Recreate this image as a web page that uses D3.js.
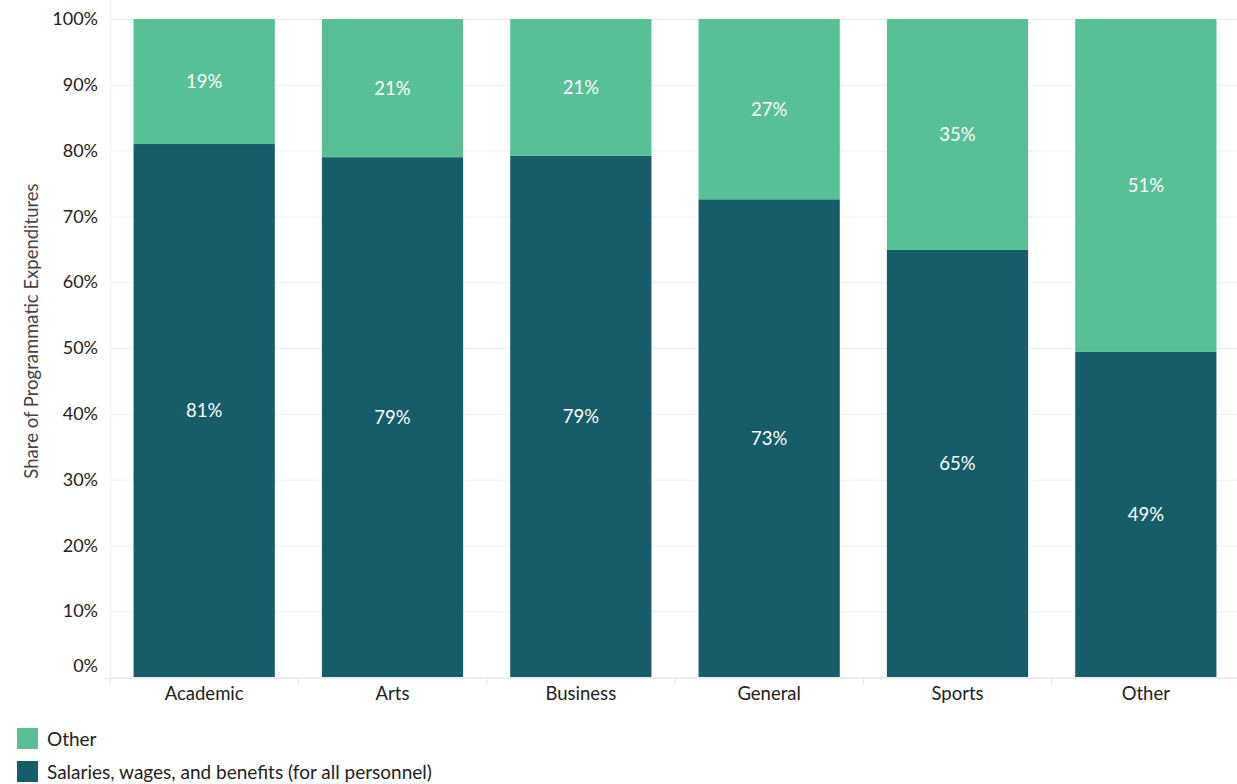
<!DOCTYPE html>
<html>
<head>
<meta charset="utf-8">
<script src="https://cdn.jsdelivr.net/npm/d3@7"></script>
<style>
  body { margin: 0; background: #fff; }
  text { font-family: Lato, "Open Sans", sans-serif; }
</style>
</head>
<body>
<div id="chart-area"></div>
<script>
// data
var categories = ['Academic', 'Arts', 'Business', 'General', 'Sports', 'Other'];
var salaries = [81.0, 79.0, 79.2, 72.6, 64.9, 49.4];
var other = salaries.map(function (v) { return 100 - v; });
var yTicks = [0, 10, 20, 30, 40, 50, 60, 70, 80, 90, 100];
var legendLabels = ['Other', 'Salaries, wages, and benefits (for all personnel)'];

var def = {
    width: 1237,
    height: 784,
    left: 110,
    right: 1240,
    top: 19,
    bottom: 677,
    dark: '#165D69',
    light: '#57C096'
};

var svg = d3.select('#chart-area').append('svg')
    .attr('width', def.width)
    .attr('height', def.height);

var x = d3.scaleBand()
    .domain(categories)
    .range([def.left, def.right])
    .paddingInner(0.25)
    .paddingOuter(0.125);

var y = d3.scaleLinear()
    .domain([0, 100])
    .range([def.bottom, def.top]);

// grid lines
svg.append('g')
    .selectAll('line')
    .data(yTicks)
    .enter()
    .append('line')
    .attr('x1', def.left)
    .attr('x2', def.width)
    .attr('y1', function (d) { return y(d) + 0.5; })
    .attr('y2', function (d) { return y(d) + 0.5; })
    .attr('stroke', '#efefef')
    .attr('stroke-width', 1);

// left vertical rule
svg.append('line')
    .attr('x1', def.left + 0.5).attr('x2', def.left + 0.5)
    .attr('y1', 0).attr('y2', def.bottom + 1)
    .attr('stroke', '#f0f0f0');

// y axis
var yAx = d3.axisLeft(y)
    .tickValues(yTicks)
    .tickSize(0)
    .tickPadding(12)
    .tickFormat(function (d) { return d + '%'; });
var yG = svg.append('g')
    .attr('transform', 'translate(' + def.left + ',0)')
    .call(yAx);
yG.select('.domain').remove();
yG.selectAll('text')
    .attr('font-size', '18px')
    .attr('fill', '#222')
    .attr('font-family', 'Lato, "Open Sans", sans-serif');
// bottom label sits above the baseline
yG.selectAll('.tick')
    .filter(function (d) { return d === 0; })
    .select('text')
    .attr('y', -11);

// x axis
var xG = svg.append('g')
    .attr('transform', 'translate(0,' + (def.bottom + 1) + ')');
xG.append('line')
    .attr('x1', 104).attr('x2', def.width)
    .attr('y1', 0.5).attr('y2', 0.5)
    .attr('stroke', '#eaeaea');
xG.selectAll('.sep')
    .data(categories)
    .enter()
    .append('line')
    .attr('class', 'sep')
    .attr('x1', function (d) { return x(d) - x.bandwidth() * x.paddingInner() / (1 - x.paddingInner()) / 2; })
    .attr('x2', function (d) { return x(d) - x.bandwidth() * x.paddingInner() / (1 - x.paddingInner()) / 2; })
    .attr('y1', 0).attr('y2', 7)
    .attr('stroke', '#e4e4e4');
xG.selectAll('.lab')
    .data(categories)
    .enter()
    .append('text')
    .attr('class', 'lab')
    .attr('x', function (d) { return x(d) + x.bandwidth() / 2; })
    .attr('y', 22)
    .attr('text-anchor', 'middle')
    .attr('font-size', '18.5px')
    .attr('fill', '#222')
    .text(function (d) { return d; });

// stacked bars
var rows = categories.map(function (c, i) {
    return { cat: c, salaries: salaries[i], other: other[i] };
});
var stack = d3.stack().keys(['salaries', 'other'])(rows);
var color = d3.scaleOrdinal()
    .domain(['salaries', 'other'])
    .range([def.dark, def.light]);

var layers = svg.append('g')
    .selectAll('g')
    .data(stack)
    .enter()
    .append('g')
    .attr('fill', function (d) { return color(d.key); });

layers.selectAll('rect')
    .data(function (d) { return d; })
    .enter()
    .append('rect')
    .attr('x', function (d) { return x(d.data.cat); })
    .attr('width', x.bandwidth())
    .attr('y', function (d) { return y(d[1]); })
    .attr('height', function (d) { return y(d[0]) - y(d[1]); });

layers.selectAll('text')
    .data(function (d) { return d; })
    .enter()
    .append('text')
    .attr('x', function (d) { return x(d.data.cat) + x.bandwidth() / 2; })
    .attr('y', function (d) { return (y(d[0]) + y(d[1])) / 2; })
    .attr('dy', '0.35em')
    .attr('text-anchor', 'middle')
    .attr('font-size', '18.5px')
    .attr('fill', '#fff')
    .text(function (d) { return Math.round(d[1] - d[0]) + '%'; });

// y label
svg.append('text')
    .attr('transform', 'translate(38,331) rotate(-90)')
    .attr('text-anchor', 'middle')
    .attr('font-size', '18.5px')
    .attr('fill', '#444')
    .text('Share of Programmatic Expenditures');

// legend
var legend = svg.append('g')
    .selectAll('g')
    .data(legendLabels)
    .enter()
    .append('g')
    .attr('transform', function (d, i) { return 'translate(17,' + (728 + i * 33) + ')'; });
legend.append('rect')
    .attr('width', 21)
    .attr('height', 21)
    .attr('fill', function (d, i) { return i === 0 ? def.light : def.dark; });
legend.append('text')
    .attr('x', 30)
    .attr('y', 11)
    .attr('dy', '0.35em')
    .attr('font-size', '19px')
    .attr('fill', '#222')
    .text(function (d) { return d; });
</script>
</body>
</html>
